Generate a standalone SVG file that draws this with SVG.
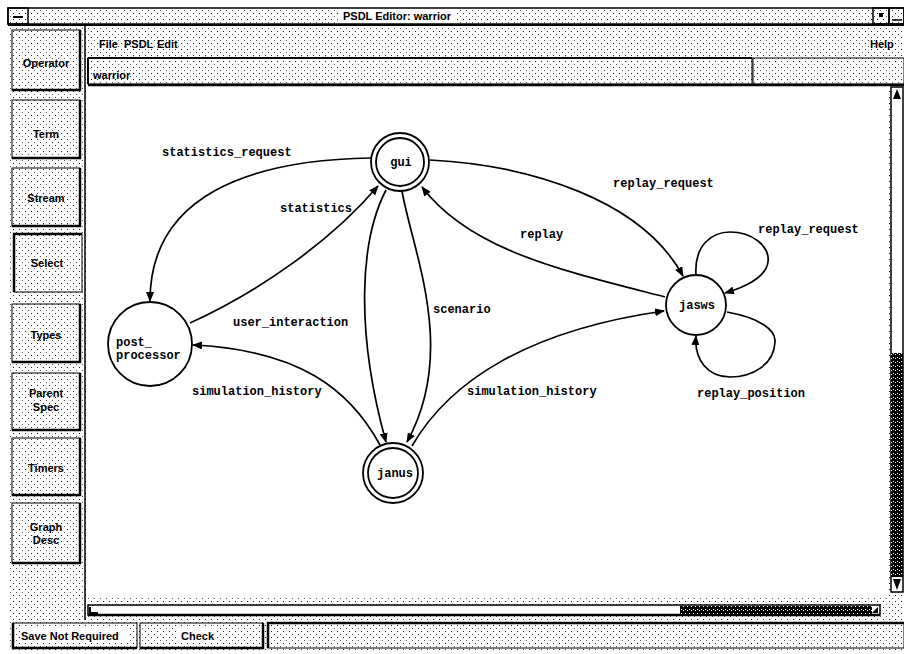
<svg xmlns="http://www.w3.org/2000/svg" width="904" height="654" viewBox="0 0 904 654">
<defs>
<pattern id="dots" width="6" height="6" patternUnits="userSpaceOnUse">
<rect width="6" height="6" fill="#fff"/>
<rect x="1" y="1" width="1" height="1" fill="#222"/>
<rect x="4" y="4" width="1" height="1" fill="#555"/>
</pattern>
<pattern id="dark" width="4" height="4" patternUnits="userSpaceOnUse">
<rect width="4" height="4" fill="#000"/>
<rect x="1" y="1" width="1" height="1" fill="#fff"/>
<rect x="3" y="2" width="1" height="1" fill="#fff"/>
</pattern>
<marker id="arr" markerWidth="10" markerHeight="8" refX="9" refY="4" orient="auto" markerUnits="userSpaceOnUse">
<path d="M0,0 L10,4 L0,8 z" fill="#000"/>
</marker>
<style>
.ui{font-family:"Liberation Sans",Arial,sans-serif;font-weight:bold;font-size:11px;fill:#000}
.lbl{font-family:"Liberation Mono","Courier New",monospace;font-weight:bold;font-size:12px;fill:#000}
.nlbl{font-family:"Liberation Mono","Courier New",monospace;font-weight:bold;font-size:12px;fill:#000}
.edge{fill:none;stroke:#000;stroke-width:1.7}
.node{fill:#fff;stroke:#000;stroke-width:1.8}
.btn{fill:url(#dots);stroke:#000;stroke-width:1}
.sh{stroke:#000;stroke-width:2.5;fill:none}
.frame{fill:none;stroke:#000;stroke-width:1.5}
</style>
</defs>

<!-- window background -->
<rect x="0" y="0" width="904" height="654" fill="#fff"/>
<rect x="8" y="8" width="896" height="644" fill="url(#dots)"/>

<g id="titlebar">
<rect x="8" y="8" width="896" height="16" class="frame"/>
<rect x="8" y="8" width="20" height="16" class="frame"/>
<line x1="13" y1="17" x2="23" y2="17" stroke="#000" stroke-width="2"/>
<rect x="873" y="8" width="16" height="16" class="frame"/>
<rect x="889" y="8" width="15" height="16" class="frame"/>
<rect x="879" y="13" width="4" height="4" fill="#000"/>
<line x1="892" y1="20" x2="902" y2="20" stroke="#000" stroke-width="1.5"/>
<rect x="338" y="9" width="118" height="14" fill="#fff"/>
<text class="ui" x="397" y="20" text-anchor="middle">PSDL Editor: warrior</text>
<line x1="8" y1="25" x2="904" y2="25" stroke="#000" stroke-width="2"/>
</g>

<g id="menubar">
<line x1="85" y1="25" x2="85" y2="620" stroke="#000" stroke-width="1.5"/>
<text class="ui" x="99" y="48">File</text>
<text class="ui" x="124" y="48">PSDL</text>
<text class="ui" x="157" y="48">Edit</text>
<text class="ui" x="870" y="48">Help</text>
</g>

<g id="namefield">
<rect x="88" y="58" width="664" height="26" fill="url(#dots)" stroke="#000" stroke-width="1"/>
<line x1="88" y1="58" x2="752" y2="58" stroke="#000" stroke-width="2"/>
<line x1="88" y1="58" x2="88" y2="84" stroke="#000" stroke-width="2"/>
<text class="ui" x="93" y="79">warrior</text>
<rect x="753" y="58" width="151" height="26" fill="url(#dots)" stroke="#000" stroke-width="1"/>
<line x1="88" y1="85" x2="904" y2="85" stroke="#000" stroke-width="2.5"/>
</g>

<g id="buttons">
<g id="btn-operator"><rect class="btn" x="12" y="30" width="68" height="60"/><path class="sh" d="M12 90 H80 V30"/><text class="ui" x="46" y="67" text-anchor="middle">Operator</text></g>
<g id="btn-term"><rect class="btn" x="12" y="100" width="68" height="58"/><path class="sh" d="M12 158 H80 V100"/><text class="ui" x="46" y="138" text-anchor="middle">Term</text></g>
<g id="btn-stream"><rect class="btn" x="12" y="168" width="68" height="58"/><path class="sh" d="M12 226 H80 V168"/><text class="ui" x="46" y="202" text-anchor="middle">Stream</text></g>
<g id="btn-select"><rect class="btn" x="14" y="234" width="68" height="58"/><path class="sh" d="M14 292 V234 H82"/><text class="ui" x="47" y="267" text-anchor="middle">Select</text></g>
<g id="btn-types"><rect class="btn" x="12" y="304" width="68" height="58"/><path class="sh" d="M12 362 H80 V304"/><text class="ui" x="46" y="339" text-anchor="middle">Types</text></g>
<g id="btn-parent"><rect class="btn" x="12" y="373" width="68" height="57"/><path class="sh" d="M12 430 H80 V373"/><text class="ui" x="46" y="397" text-anchor="middle">Parent</text><text class="ui" x="46" y="411" text-anchor="middle">Spec</text></g>
<g id="btn-timers"><rect class="btn" x="12" y="438" width="68" height="57"/><path class="sh" d="M12 495 H80 V438"/><text class="ui" x="46" y="472" text-anchor="middle">Timers</text></g>
<g id="btn-graph"><rect class="btn" x="12" y="503" width="68" height="60"/><path class="sh" d="M12 563 H80 V503"/><text class="ui" x="46" y="531" text-anchor="middle">Graph</text><text class="ui" x="46" y="544" text-anchor="middle">Desc</text></g>
</g>

<g id="canvas">
<rect x="88" y="87" width="800" height="511" fill="#fff"/>
</g>

<g id="vscroll">
<rect x="891" y="87" width="12" height="505" fill="#fff" stroke="#000" stroke-width="1.5"/>
<rect x="891" y="353" width="12" height="224" fill="url(#dark)"/>
<path d="M893 99 L897 89 L901 99 z" fill="#000"/>
<path d="M893 579 L897 590 L901 579 z" fill="#000"/>
</g>

<g id="hscroll">
<rect x="88" y="605" width="792" height="10" fill="#fff" stroke="#000" stroke-width="1.5"/>
<line x1="88" y1="615" x2="880" y2="615" stroke="#000" stroke-width="2.5"/>
<rect x="680" y="606" width="192" height="8" fill="url(#dark)"/>
<path d="M90 607 V613 H98" fill="none" stroke="#000" stroke-width="2"/>
<path d="M872 613 L878 607 V613 z" fill="#000"/>
</g>

<g id="statusbar">
<rect x="13" y="623" width="124" height="25" fill="url(#dots)" stroke="#000" stroke-width="1"/>
<path class="sh" d="M13 623 V648 H137"/>
<rect x="20" y="627" width="110" height="16" fill="#fff"/>
<text class="ui" x="21" y="640">Save Not Required</text>
<rect x="140" y="623" width="123" height="25" fill="url(#dots)" stroke="#000" stroke-width="1"/>
<path class="sh" d="M140 648 H263 V623"/>
<rect x="178" y="628" width="38" height="15" fill="#fff"/>
<text class="ui" x="181" y="640">Check</text>
<rect x="268" y="623" width="636" height="25" fill="url(#dots)" stroke="#000" stroke-width="1"/>
<path class="sh" d="M268 648 V623 H904"/>
</g>

<g id="connectors">
<path id="e-statreq" class="edge" d="M371 158 C 250 160, 150 195, 150 301" marker-end="url(#arr)"/>
<path id="e-stat" class="edge" d="M190 323 C 262 290, 332 240, 378 186" marker-end="url(#arr)"/>
<path id="e-replreq" class="edge" d="M430 160 C 530 165, 642 200, 683 276" marker-end="url(#arr)"/>
<path id="e-replay" class="edge" d="M665 297 C 560 270, 470 250, 422 187" marker-end="url(#arr)"/>
<path id="e-loop1" class="edge" d="M696 275 C 694 245, 712 232, 730 232 C 752 232, 770 246, 768 262 C 766 278, 742 288, 725 293" marker-end="url(#arr)"/>
<path id="e-loop2" class="edge" d="M727 312 C 760 318, 776 330, 775 342 C 774 365, 752 377, 730 377 C 708 377, 694 360, 696 336" marker-end="url(#arr)"/>
<path id="e-simr" class="edge" d="M412 446 C 450 380, 530 330, 664 311" marker-end="url(#arr)"/>
<path id="e-siml" class="edge" d="M380 445 C 350 390, 300 350, 193 345" marker-end="url(#arr)"/>
<path id="e-user" class="edge" d="M386 190 C 360 240, 355 330, 386 442" marker-end="url(#arr)"/>
<path id="e-scen" class="edge" d="M402 191 C 412 250, 458 350, 407 442" marker-end="url(#arr)"/>
<text class="lbl" x="162" y="156">statistics_request</text>
<text class="lbl" x="280" y="212">statistics</text>
<text class="lbl" x="613" y="187">replay_request</text>
<text class="lbl" x="520" y="238">replay</text>
<text class="lbl" x="758" y="233">replay_request</text>
<text class="lbl" x="433" y="313">scenario</text>
<text class="lbl" x="233" y="326">user_interaction</text>
<text class="lbl" x="192" y="395">simulation_history</text>
<text class="lbl" x="467" y="395">simulation_history</text>
<text class="lbl" x="697" y="397">replay_position</text>
</g>

<g id="node-gui">
<circle class="node" cx="400" cy="162" r="29"/>
<circle class="node" cx="400" cy="162" r="24"/>
<text class="nlbl" x="401" y="166" text-anchor="middle">gui</text>
</g>
<g id="node-jasws">
<circle class="node" cx="696" cy="305" r="30"/>
<text class="nlbl" x="697" y="309" text-anchor="middle">jasws</text>
</g>
<g id="node-janus">
<circle class="node" cx="393" cy="473" r="30"/>
<circle class="node" cx="393" cy="473" r="25"/>
<text class="nlbl" x="395" y="477" text-anchor="middle">janus</text>
</g>
<g id="node-post">
<circle class="node" cx="150" cy="344" r="42"/>
<text class="nlbl" x="116" y="346">post_</text>
<text class="nlbl" x="116" y="359">processor</text>
</g>
</svg>
